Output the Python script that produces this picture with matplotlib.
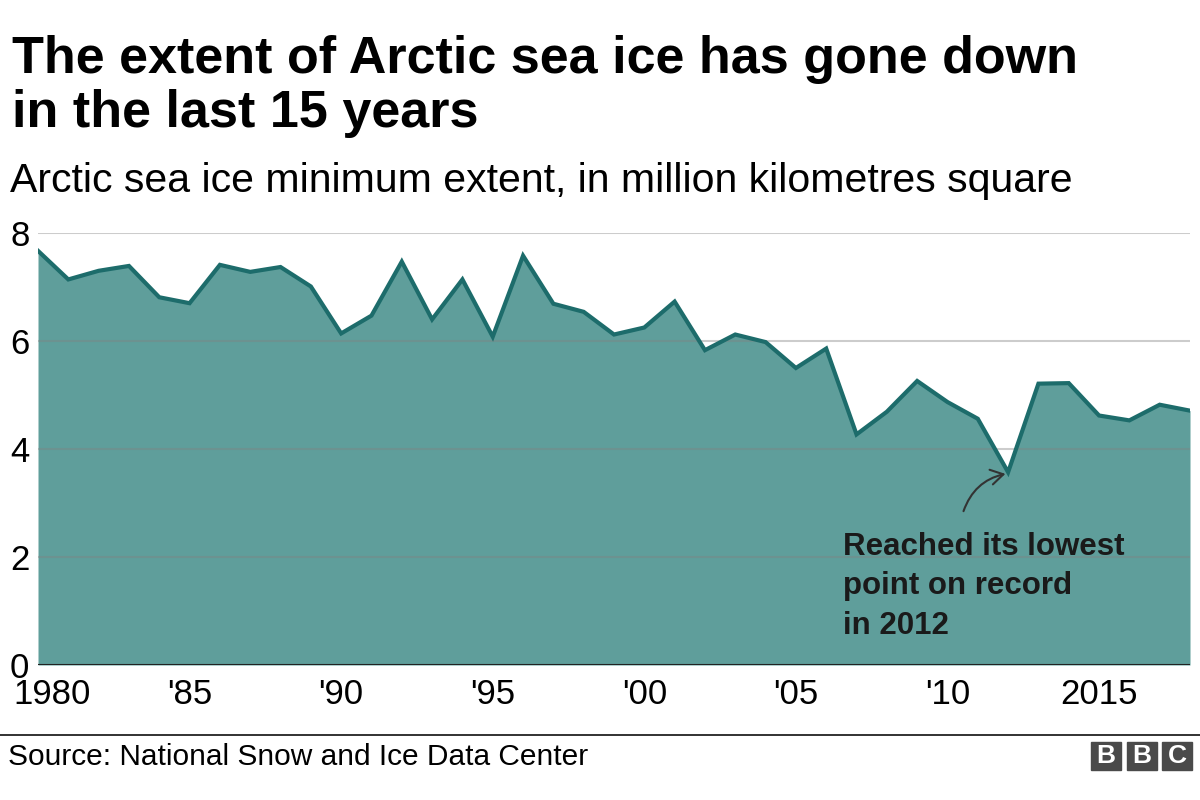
import matplotlib.pyplot as plt
from matplotlib.patches import Rectangle

plt.rcParams["font.family"] = ["Liberation Sans", "DejaVu Sans"]

years = list(range(1980, 2019))
extent = [7.67, 7.14, 7.30, 7.39, 6.81, 6.70, 7.41, 7.28, 7.37, 7.01,
          6.14, 6.47, 7.47, 6.40, 7.14, 6.08, 7.58, 6.69, 6.54, 6.12,
          6.25, 6.73, 5.83, 6.12, 5.98, 5.50, 5.86, 4.27, 4.69, 5.26,
          4.87, 4.56, 3.57, 5.21, 5.22, 4.62, 4.53, 4.82, 4.71]

x_ticks = [1980, 1985, 1990, 1995, 2000, 2005, 2010, 2015]
x_tick_labels = ["1980", "'85", "'90", "'95", "'00", "'05", "'10", "2015"]
y_ticks = [0, 2, 4, 6, 8]

fill_color = "#5f9e9b"
line_color = "#1d6c6b"

fig = plt.figure(figsize=(12, 8), dpi=100)
ax = fig.add_axes([38 / 1200, 1 - 665 / 800, (1190 - 38) / 1200, (665 - 233) / 800])

ax.fill_between(years, extent, 0, color=fill_color, lw=0, zorder=1)
ax.plot(years, extent, color=line_color, lw=3, solid_joinstyle="miter", zorder=3)

# gridlines drawn over the fill, translucent
for y in y_ticks[1:]:
    ax.axhline(y, color="#808080", alpha=0.4, lw=1.5, zorder=2)
ax.axhline(0, color="#222222", lw=1.5, zorder=4)

ax.set_xlim(1980, 2018)
ax.set_ylim(0, 8)
ax.set_xticks([])
ax.set_yticks([])
for s in ax.spines.values():
    s.set_visible(False)

# x labels; the first one is pushed right so it clears the "0"
for i, (x, lbl) in enumerate(zip(x_ticks, x_tick_labels)):
    ax.text(x, -29 / 432, lbl, transform=ax.get_xaxis_transform(),
            fontsize=25, ha="left" if i == 0 else "center", va="center")
    if i == 0:
        ax.texts[-1].set_x(x - 0.82)

# y labels, left aligned at the figure edge
for y in y_ticks:
    ax.text(-28 / 1152, y, str(y), transform=ax.get_yaxis_transform(),
            fontsize=25, ha="left", va="center_baseline")

# annotation
ax.annotate("", xy=(2012.0, 3.55), xytext=(2010.5, 2.8),
            arrowprops=dict(arrowstyle="->,head_length=0.5,head_width=0.3",
                            color="#333333", lw=1.5,
                            connectionstyle="arc3,rad=-0.3", mutation_scale=18),
            zorder=5)
ax.text(2006.55, 2.47, "Reached its lowest\npoint on record\nin 2012",
        fontsize=22.5, fontweight="bold", color="#1a1a1a",
        va="top", ha="left", linespacing=1.42, zorder=5)

fig.text(12 / 1200, 1 - 60 / 800, "The extent of Arctic sea ice has gone down",
         fontsize=37.5, fontweight="bold", va="center", ha="left")
fig.text(12 / 1200, 1 - 113 / 800, "in the last 15 years",
         fontsize=37.5, fontweight="bold", va="center", ha="left")
fig.text(10 / 1200, 1 - 181 / 800,
         "Arctic sea ice minimum extent, in million kilometres square",
         fontsize=29.5, va="center", ha="left")

# footer
fig.add_artist(plt.Line2D([0, 1], [1 - 735 / 800] * 2, color="#222222", lw=1.3))
fig.text(8 / 1200, 1 - 757 / 800, "Source: National Snow and Ice Data Center",
         fontsize=21.5, va="center", ha="left")
for i, letter in enumerate("BBC"):
    x0 = (1091 + i * 35.5) / 1200
    fig.add_artist(Rectangle((x0, 1 - 770 / 800), 30 / 1200, 28 / 800,
                             transform=fig.transFigure, color="#4a4a4a"))
    fig.text(x0 + 15 / 1200, 1 - 756 / 800, letter, color="white",
             fontsize=19, fontweight="bold", ha="center", va="center")

fig.savefig("out.png", dpi=100)
